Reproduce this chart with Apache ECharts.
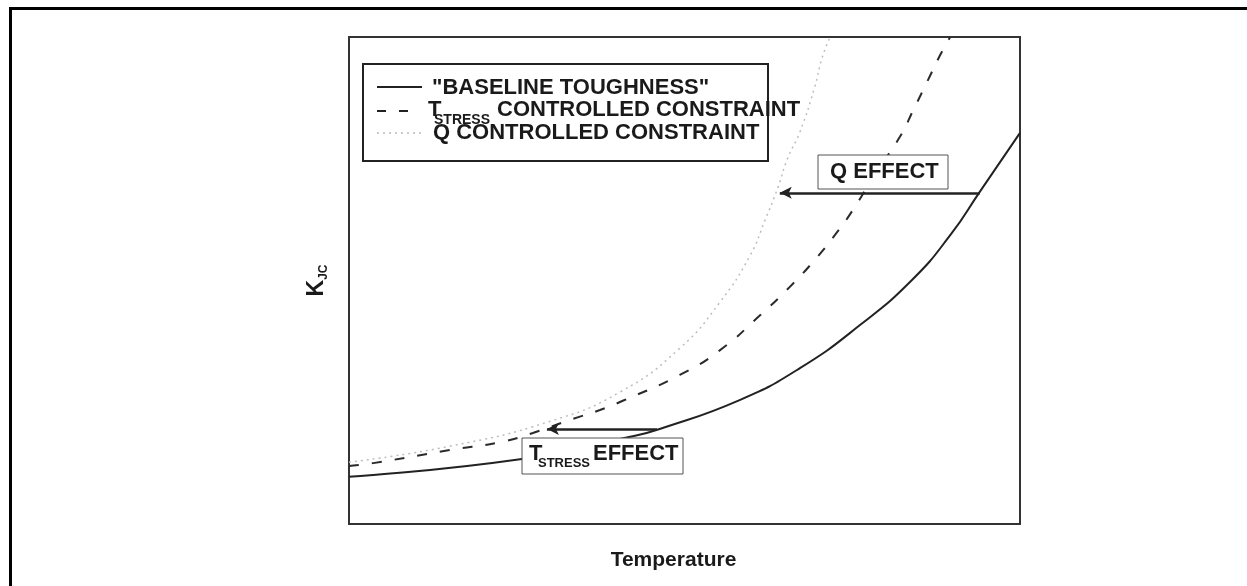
<!DOCTYPE html>
<html>
<head>
<meta charset="utf-8">
<script src="https://cdn.jsdelivr.net/npm/echarts@6/dist/echarts.min.js"></script>
<style>
  html, body { margin: 0; padding: 0; background: #fff; }
  #chart { width: 1247px; height: 586px; }
</style>
</head>
<body>
<div id="chart"></div>
<script>
  // baseline toughness (solid)
  var baseT = [0, 25.5, 41.9, 46.3, 58.3, 67.2, 76.2, 83.9, 89.6, 94.0, 100]
  var baseK = [9.7, 13.3, 17.9, 19.5, 25.5, 32.0, 40.9, 50.1, 59.3, 68.2, 80.3]
  // T-stress controlled constraint (dashed)
  var tsT = [0, 3.6, 15.1, 22.5, 27.4, 33.4, 37.4, 40.8, 49.3, 55.3, 61.3, 65.7, 69.4, 72.4, 75.1, 78.5, 82.1, 84.1, 86.3, 88.1, 89.6]
  var tsK = [11.9, 12.5, 15.2, 16.8, 18.7, 21.6, 23.4, 25.3, 30.6, 35.7, 42.9, 48.7, 54.2, 59.3, 64.5, 72.1, 79.5, 85.0, 91.2, 96.3, 100]
  // Q controlled constraint (dotted)
  var qT = [0, 15.1, 30.0, 40.4, 49.3, 55.3, 59.8, 62.0, 63.9, 65.4, 67.2, 69.4, 70.5, 71.7]
  var qK = [12.7, 16.0, 21.1, 27.1, 36.1, 45.6, 55.2, 62.4, 69.0, 75.2, 80.5, 89.7, 95.7, 100]
  // effect arrows: [fromT, toT, K]
  var qArrow = [94.0, 64.2, 68.0]
  var tArrow = [45.9, 29.5, 19.5]

  function zip (xs, ys) {
    var out = []
    for (var i = 0; i < xs.length; i++) out.push([xs[i], ys[i]])
    return out
  }

  var FONT = '"Liberation Sans", Arial, sans-serif'
  var ink = '#1a1a1a'

  function arrowLine (a) {
    return [
      { coord: [a[0], a[2]], symbol: 'none' },
      { coord: [a[1], a[2]], symbol: 'arrow' },
    ]
  }

  function txt (x, y, text, size, va) {
    return {
      type: 'text', z: 100, x: x, y: y,
      style: { text: text, fill: ink, font: 'bold ' + size + 'px ' + FONT, textVerticalAlign: va || 'middle' },
    }
  }

  var myChart = echarts.init(document.getElementById('chart'))
  var option = {
    animation: false,
    backgroundColor: '#fff',
    grid: {
      left: 349, top: 37, width: 671, height: 487,
      show: true, borderColor: '#333', borderWidth: 2,
    },
    xAxis: {
      type: 'value', min: 0, max: 100,
      name: 'Temperature',
      nameLocation: 'middle',
      nameGap: 26,
      nameTextStyle: { fontFamily: FONT, fontWeight: 'bold', fontSize: 21, color: ink, padding: [0, 22, 0, 0] },
      axisLine: { show: false }, axisTick: { show: false }, axisLabel: { show: false }, splitLine: { show: false },
    },
    yAxis: {
      type: 'value', min: 0, max: 100,
      name: '{k|K}{s|JC}',
      nameLocation: 'middle',
      nameGap: 19,
      nameTextStyle: {
        color: ink,
        rich: {
          k: { fontFamily: FONT, fontWeight: 'bold', fontSize: 23, color: ink, verticalAlign: 'top' },
          s: { fontFamily: FONT, fontWeight: 'bold', fontSize: 12, color: ink, verticalAlign: 'top', padding: [13, 0, 0, 0] },
        },
      },
      axisLine: { show: false }, axisTick: { show: false }, axisLabel: { show: false }, splitLine: { show: false },
    },
    series: [
      {
        name: 'baseline', type: 'line', smooth: true, symbol: 'none',
        lineStyle: { color: '#222', width: 2 },
        data: zip(baseT, baseK),
        markLine: {
          silent: true, symbolSize: [9, 12],
          lineStyle: { color: '#222', width: 2.5, type: 'solid' },
          label: { show: false },
          data: [arrowLine(qArrow), arrowLine(tArrow)],
        },
      },
      {
        name: 'tstress', type: 'line', smooth: true, symbol: 'none',
        lineStyle: { color: '#2a2a2a', width: 2, type: [10, 13] },
        data: zip(tsT, tsK),
      },
      {
        name: 'q', type: 'line', smooth: true, symbol: 'none',
        lineStyle: { color: '#bdbdbd', width: 1.5, type: [2, 4] },
        data: zip(qT, qK),
      },
    ],
    graphic: [
      // outer frame
      { type: 'rect', z: 100, shape: { x: 10.5, y: 8.5, width: 1400, height: 800 }, style: { fill: 'none', stroke: '#000', lineWidth: 3 } },
      // legend box
      { type: 'rect', z: 100, shape: { x: 363, y: 64, width: 405, height: 97 }, style: { fill: '#fff', stroke: '#222', lineWidth: 2 } },
      { type: 'line', z: 100, shape: { x1: 377, y1: 87, x2: 422, y2: 87 }, style: { stroke: '#222', lineWidth: 2 } },
      { type: 'line', z: 100, shape: { x1: 377, y1: 111, x2: 409, y2: 111 }, style: { stroke: '#222', lineWidth: 2, lineDash: [9, 13] } },
      { type: 'line', z: 100, shape: { x1: 377, y1: 133, x2: 422, y2: 133 }, style: { stroke: '#bbb', lineWidth: 1.5, lineDash: [2, 4] } },
      txt(432, 88, '"BASELINE TOUGHNESS"', 22),
      txt(428, 110, 'T', 22),
      txt(434, 127, 'STRESS', 14, 'bottom'),
      txt(497, 110, 'CONTROLLED CONSTRAINT', 22),
      txt(433, 133, 'Q CONTROLLED CONSTRAINT', 22),
      // Q effect label
      { type: 'rect', z: 100, shape: { x: 818, y: 155, width: 130, height: 34 }, style: { fill: '#fff', stroke: '#555', lineWidth: 1 } },
      txt(830, 172, 'Q EFFECT', 22),
      // T-stress effect label
      { type: 'rect', z: 100, shape: { x: 522, y: 438, width: 161, height: 36 }, style: { fill: '#fff', stroke: '#555', lineWidth: 1 } },
      txt(529, 454, 'T', 22),
      txt(538, 470, 'STRESS', 13, 'bottom'),
      txt(593, 454, 'EFFECT', 22),
    ],
  }
  myChart.setOption(option)
</script>
</body>
</html>
